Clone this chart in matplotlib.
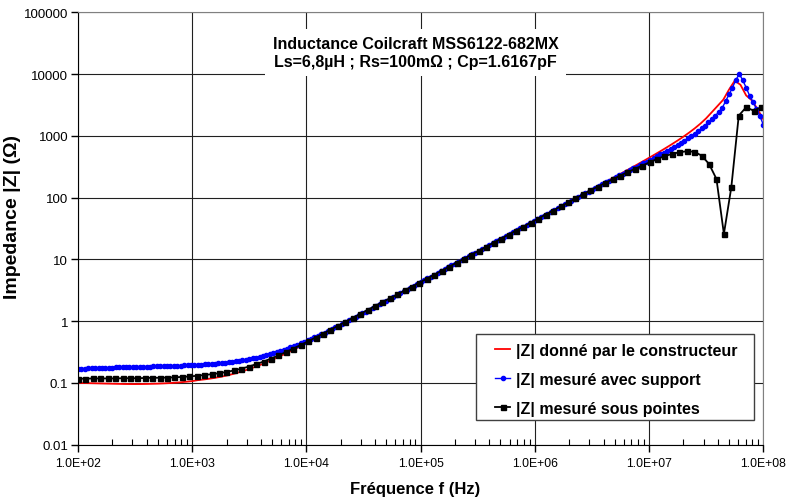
#!/usr/bin/env python3
# -*- coding: utf-8 -*-

"""
Impedance |Z| of the Coilcraft MSS6122-682MX inductor vs frequency
"""

import matplotlib
matplotlib.use("Agg")
import matplotlib.pyplot as plt
import numpy as np
from matplotlib.patches import Rectangle
from matplotlib.ticker import FixedLocator, FixedFormatter, LogLocator, NullLocator, NullFormatter

plt.rcParams['font.family'] = ['Liberation Sans', 'DejaVu Sans']

# sweep grids (log sweeps, 100 Hz -> 100 MHz)
freq_red = np.logspace(2, 8, 121)
freq_blue = np.logspace(2, 8, 201)
freq_black = np.logspace(2, 7.98, 93)

# |Z| given by the manufacturer (ohm)
z_red = [
    .100, .0995, .099, .0985, .098, .0975, .097, .0965, .096, .0958, .0957,
    .0958, .0962, .0967, .0973, .0982, .0993, .1007, .1024, .1045, .1068,
    .1109, .1135, .1168, .1208, .1255, .1314, .1383, .1467, .1565, .1680,
    .1815, .1972, .2153, .2362, .2601, .2874, .3184, .3536, .3934, .4386,
    .4894, .5468, .6113, .6840, .7659, .8578, .9611, 1.0772, 1.2075, 1.3540,
    1.5183, 1.7028, 1.9099, 2.1423, 2.4032, 2.6960, 3.0245, 3.3931, 3.8068, 4.274,
    4.794, 5.379, 6.035, 6.772, 7.598, 8.525, 9.565, 10.73, 12.04, 13.51,
    15.16, 17.01, 19.09, 21.41, 24.03, 26.96, 30.25, 33.94, 38.08, 42.73,
    47.94, 53.79, 60.35, 67.72, 76.03, 85.30, 95.73, 107.4, 120.5, 135.5,
    152.2, 170.9, 192.0, 215.7, 242.6, 272.8, 307.0, 345.8, 389.9, 440.5,
    498.1, 564.3, 641.5, 732.0, 838.8, 966.7, 1124, 1321, 1576, 1922,
    2420, 3050, 3850, 5600, 7800, 6700, 4500, 3750, 2700, 1850,
]

# |Z| measured with the test fixture (ohm)
z_blue = [
    .170, .171, .171, .172, .173, .173, .174, .175, .176, .176, .177, .178,
    .178, .179, .180, .180, .181, .182, .182, .183, .184, .184, .185, .186,
    .187, .187, .188, .189, .190, .190, .191, .192, .193, .194,
    .1947, .1962, .1979, .1996, .2014, .2034, .2056, .2081, .2107, .2134,
    .2165, .2200, .2238, .2279, .2324, .2374, .2430, .2491, .2559, .2633,
    .2716, .2806, .2906, .3016, .3137, .3269, .3415, .3573, .3746, .3935,
    .4140, .4364, .4608,
    .4869, .5152, .5458, .5790, .6148, .6536, .6955, .7406, .7893, .8416,
    .8980, .9587, 1.0239, 1.0940, 1.1693, 1.2502, 1.3371, 1.4303, 1.5304, 1.6378,
    1.7530, 1.8765, 2.0090, 2.1511, 2.3035, 2.4669, 2.6420, 2.8298, 3.0310, 3.2467,
    3.4779, 3.7258, 3.9914,
    4.278, 4.578, 4.906, 5.257, 5.633, 6.035, 6.467, 6.929, 7.425, 7.956,
    8.525, 9.135, 9.788, 10.488, 11.238, 12.042, 12.903, 13.826, 14.815, 15.874,
    17.01, 18.23, 19.53, 20.93, 22.42, 24.03, 25.74, 27.58, 29.55, 31.66,
    33.92, 36.33, 38.92, 41.69,
    44.67, 47.85, 51.26, 54.90, 58.80, 62.98, 67.47, 72.25, 77.38, 82.88,
    88.76, 95.05, 101.78, 108.99, 116.71, 124.97, 133.79, 143.19, 153.27, 164.04,
    175.56, 187.0, 200.0, 213.7, 228.2, 243.8, 260.2, 277.3, 295.6, 315.1,
    335.8, 358.0, 382.3,
    406, 436, 467, 500, 536, 577, 619, 667, 716, 775, 839, 908, 984, 1084,
    1194, 1321, 1466, 1644, 1854, 2109, 2432, 2818, 3631, 4677, 6026, 8035,
    10000, 7943, 6026, 4467, 3508, 2754, 2089, 1514,
]

# |Z| measured on probes (ohm)
z_black = [
    .117, .117, .118, .118, .118, .118, .119, .119, .119, .120, .121, .121,
    .122, .123, .125, .127,
    .1302, .1342, .1382, .1435, .1503, .1589, .1699, .1837, .2010, .2219,
    .2475, .2783, .3151, .3588, .4105, .4713, .5426, .6261, .7237, .8373,
    .9699, 1.1244, 1.3038, 1.5127, 1.7554,
    2.029, 2.343, 2.710, 3.135, 3.631, 4.204, 4.874, 5.650, 6.55, 7.598,
    8.825, 10.249, 11.904, 13.826, 16.058, 18.651, 21.662, 25.159, 29.221, 33.938,
    39.418, 45.781, 53.172, 61.757, 71.729, 83.307, 96.757, 112.38, 130.52, 150.1,
    172.5, 197.3,
    226, 257, 291, 329, 373, 422, 467, 508, 542, 562, 553, 478, 350, 200,
    25.8, 147, 2120, 2900, 2553, 2900,
]

labels = ['|Z| donné par le constructeur',
          '|Z| mesuré avec support',
          '|Z| mesuré sous pointes']

x_ticks = [1e2, 1e3, 1e4, 1e5, 1e6, 1e7, 1e8]
x_tick_labels = ['1.0E+02', '1.0E+03', '1.0E+04', '1.0E+05', '1.0E+06', '1.0E+07', '1.0E+08']
y_ticks = [0.01, 0.1, 1, 10, 100, 1000, 10000, 100000]
y_tick_labels = ['0.01', '0.1', '1', '10', '100', '1000', '10000', '100000']

title = 'Inductance Coilcraft MSS6122-682MX\nLs=6,8µH ; Rs=100mΩ ; Cp=1.6167pF'

fig = plt.figure(figsize=(7.9, 5.02), dpi=100)
ax = fig.add_axes([0.0987, 0.1122, 0.8675, 0.8614])

ax.plot(freq_red, z_red, color='#ff0000', lw=1.3, label=labels[0])
ax.plot(freq_blue, z_blue, color='#0000ff', lw=1.0, marker='o', ms=3.0,
        mec='#0000ff', mfc='#0000ff', label=labels[1])
ax.plot(freq_black, z_black, color='black', lw=1.3, marker='s', ms=3.6,
        label=labels[2])

ax.set_xscale('log')
ax.set_yscale('log')
ax.set_xlim(1e2, 1e8)
ax.set_ylim(0.01, 100000)

ax.xaxis.set_major_locator(FixedLocator(x_ticks))
ax.xaxis.set_major_formatter(FixedFormatter(x_tick_labels))
ax.xaxis.set_minor_locator(LogLocator(base=10, subs=np.arange(2, 10), numticks=20))
ax.xaxis.set_minor_formatter(NullFormatter())
ax.yaxis.set_major_locator(FixedLocator(y_ticks))
ax.yaxis.set_major_formatter(FixedFormatter(y_tick_labels))
ax.yaxis.set_minor_locator(NullLocator())

ax.tick_params(axis='x', which='major', direction='out', length=5, width=1,
               labelsize=8.8, pad=4)
ax.tick_params(axis='x', which='minor', direction='in', length=4, width=0.8)
ax.tick_params(axis='y', which='major', direction='out', length=5, width=1,
               labelsize=9.5, pad=2)

ax.grid(True, which='major', color='#202020', lw=0.8)
for side in ['top', 'right']:
    ax.spines[side].set_color('#808080')
for side in ['left', 'bottom']:
    ax.spines[side].set_color('black')

ax.set_xlabel('Fréquence f (Hz)', fontsize=12, fontweight='bold')
ax.xaxis.set_label_coords(0.4925, -0.083)
ax.set_ylabel('Impedance |Z| (Ω)', fontsize=14, fontweight='bold')
ax.yaxis.set_label_coords(-0.0835, 0.529)

ax.text(0.4925, 0.907, title, transform=ax.transAxes, ha='center', va='center',
        fontsize=11.5, fontweight='bold', linespacing=1.2,
        bbox=dict(boxstyle='square,pad=0.45', fc='white', ec='none'))

# legend frame drawn separately (wider side margins than the text)
ax.add_patch(Rectangle((0.5808, 0.0571), 0.4057, 0.1989, transform=ax.transAxes,
                       fc='white', ec='#404040', lw=1.0, zorder=4.5))
leg = ax.legend(loc='upper left', bbox_to_anchor=(0.6085, 0.235),
                borderaxespad=0, frameon=False,
                prop={'size': 11.5, 'weight': 'bold'}, handlelength=0.95,
                handletextpad=0.35, labelspacing=0.87, numpoints=1, borderpad=0)
leg.set_zorder(5)

fig.savefig('out.png', dpi=100)
